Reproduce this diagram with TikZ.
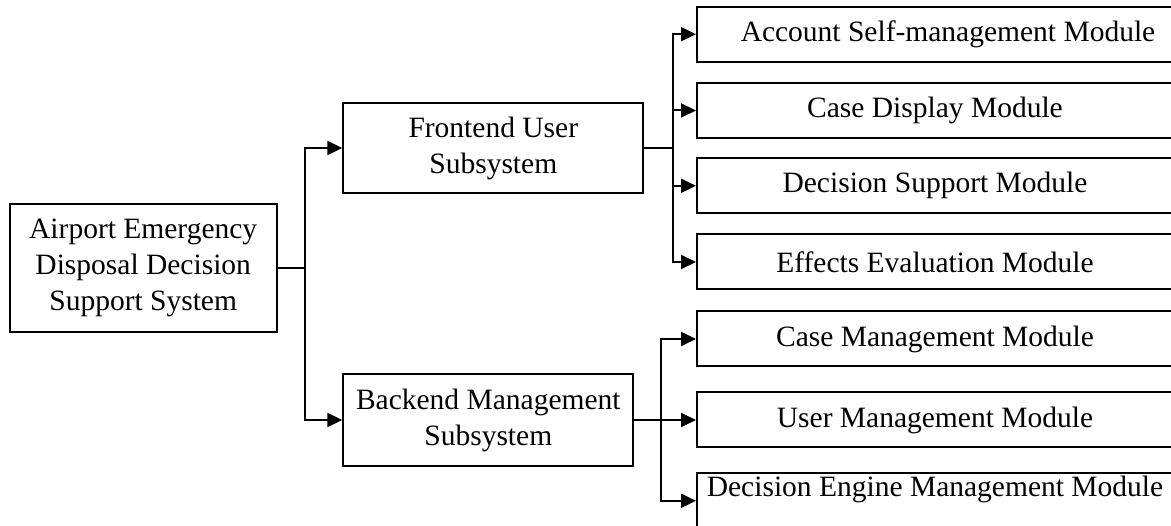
\documentclass[tikz,border=0pt]{standalone}
\usepackage{fontspec}
\setmainfont{Liberation Serif}
\usetikzlibrary{arrows.meta}
\begin{document}
\begin{tikzpicture}[x=1pt,y=-1pt,
  box/.style={draw, line width=2pt, inner sep=0pt, align=center,
    font=\fontsize{29.5}{36}\selectfont},
  modbox/.style={box, minimum width=476pt, minimum height=55pt},
  link/.style={line width=2pt},
  tip/.style={-{Triangle[length=15pt,width=14pt]}}]
\useasboundingbox (0,0) rectangle (1171,526);
\clip (0,0) rectangle (1171,526);

% top level and the two subsystems
\node[box, minimum width=267pt, minimum height=127.7pt] (root) at (143.2,268)
  {Airport Emergency\\Disposal Decision\\Support System};
\node[box, minimum width=300pt, minimum height=90.6pt] (front) at (493.3,148)
  {Frontend User\\Subsystem};
\node[box, minimum width=290pt, minimum height=91.7pt] (back) at (488.3,420)
  {Backend Management\\Subsystem};

% modules
\node[modbox, label={[font=\fontsize{29.5}{36}\selectfont, xshift=13pt]center:Account Self-management Module}] (m1) at (935,34.2) {};
\node[modbox] (m2) at (935,110.5) {Case Display Module};
\node[modbox] (m3) at (935,185.8) {Decision Support Module};
\node[modbox] (m4) at (935,262) {Effects Evaluation Module};
\node[modbox] (m5) at (935,339) {Case Management Module};
\node[modbox] (m6) at (935,420) {User Management Module};
\node[modbox, label={[font=\fontsize{29.5}{36}\selectfont, yshift=11pt]center:Decision Engine Management Module}] (m7) at (935,500.8) {};

% connectors
\coordinate (rb) at (305,268);
\draw[link] (root.east) -- (rb);
\draw[link,tip] (rb) |- (front.west);
\draw[link,tip] (rb) |- (back.west);

\coordinate (fb) at (672.7,148);
\draw[link] (front.east) -- (fb);
\foreach \m in {m1,m2,m3,m4}
  \draw[link,tip] (fb) |- (\m.west);

\coordinate (bb) at (661,420);
\draw[link,tip] (back.east) -- (m6.west);
\draw[link,tip] (bb) |- (m5.west);
\draw[link,tip] (bb) |- (m7.west);
\end{tikzpicture}
\end{document}
